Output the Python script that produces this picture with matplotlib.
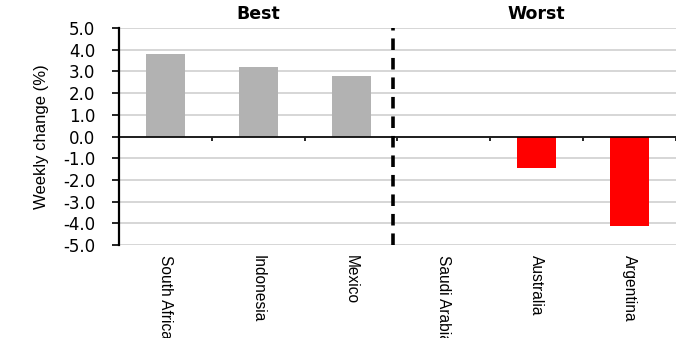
import matplotlib
matplotlib.use("Agg")
import matplotlib.pyplot as plt
import matplotlib.transforms as mtransforms
import numpy as np

# Weekly change by market: three best and three worst performers
categories = ["South Africa", "Indonesia", "Mexico", "Saudi Arabia", "Australia", "Argentina"]
values = [3.8, 3.2, 2.8, 0.0, -1.45, -4.1]
groups = ["Best", "Best", "Best", "Worst", "Worst", "Worst"]
group_titles = ["Best", "Worst"]
y_ticks = [5.0, 4.0, 3.0, 2.0, 1.0, 0.0, -1.0, -2.0, -3.0, -4.0, -5.0]

sans = ["Liberation Sans", "DejaVu Sans"]

fig = plt.figure(figsize=(6.76, 3.38), dpi=100)
ax = fig.add_axes([0.176, 0.275, 0.824, 0.642])

x = np.arange(len(categories))
colors = ["#b2b2b2" if g == "Best" else "#ff0000" for g in groups]
ax.bar(x, values, width=0.42, color=colors, zorder=3)

ax.set_xlim(-0.5, len(categories) - 0.5)
ax.set_ylim(-5.0, 5.0)

# horizontal gridlines
ax.set_yticks(y_ticks)
ax.set_yticklabels([f"{t:.1f}" for t in y_ticks], family="DejaVu Sans", fontsize=12)
ax.yaxis.grid(True, color="#d0d0d0", linewidth=1.2, zorder=0)
ax.tick_params(axis="y", direction="out", length=5, width=1.2, pad=12)

# bottom spine sits on the zero line with ticks at category boundaries
ax.spines["bottom"].set_position(("data", 0))
ax.spines["bottom"].set_linewidth(1.2)
ax.spines["bottom"].set_zorder(4)
ax.set_xticks(np.arange(len(categories) + 1) - 0.5)
ax.set_xticklabels([])
ax.tick_params(axis="x", direction="out", length=3, width=1.2)
for s in ("top", "right"):
    ax.spines[s].set_visible(False)
ax.spines["left"].set_linewidth(1.6)

# category labels below the plotting area
trans = mtransforms.blended_transform_factory(ax.transData, ax.transAxes)
for xi, name in zip(x, categories):
    ax.text(xi, -0.045, name, transform=trans, rotation=-90, ha="center", va="top",
            family=sans, fontsize=11.2, clip_on=False)

ax.set_ylabel("Weekly change (%)", family=sans, fontsize=12, labelpad=10)

# separator between the two groups
ax.axvline(2.45, color="black", linewidth=2.6, linestyle=(0, (3.2, 2.2)), zorder=5)

# group titles
for i, title in enumerate(group_titles):
    ax.text(1.0 + 3 * i, 1.025, title, transform=trans, ha="center", va="bottom",
            family="DejaVu Sans", fontweight="bold", fontsize=12.5)

fig.savefig("out.png", dpi=100)
